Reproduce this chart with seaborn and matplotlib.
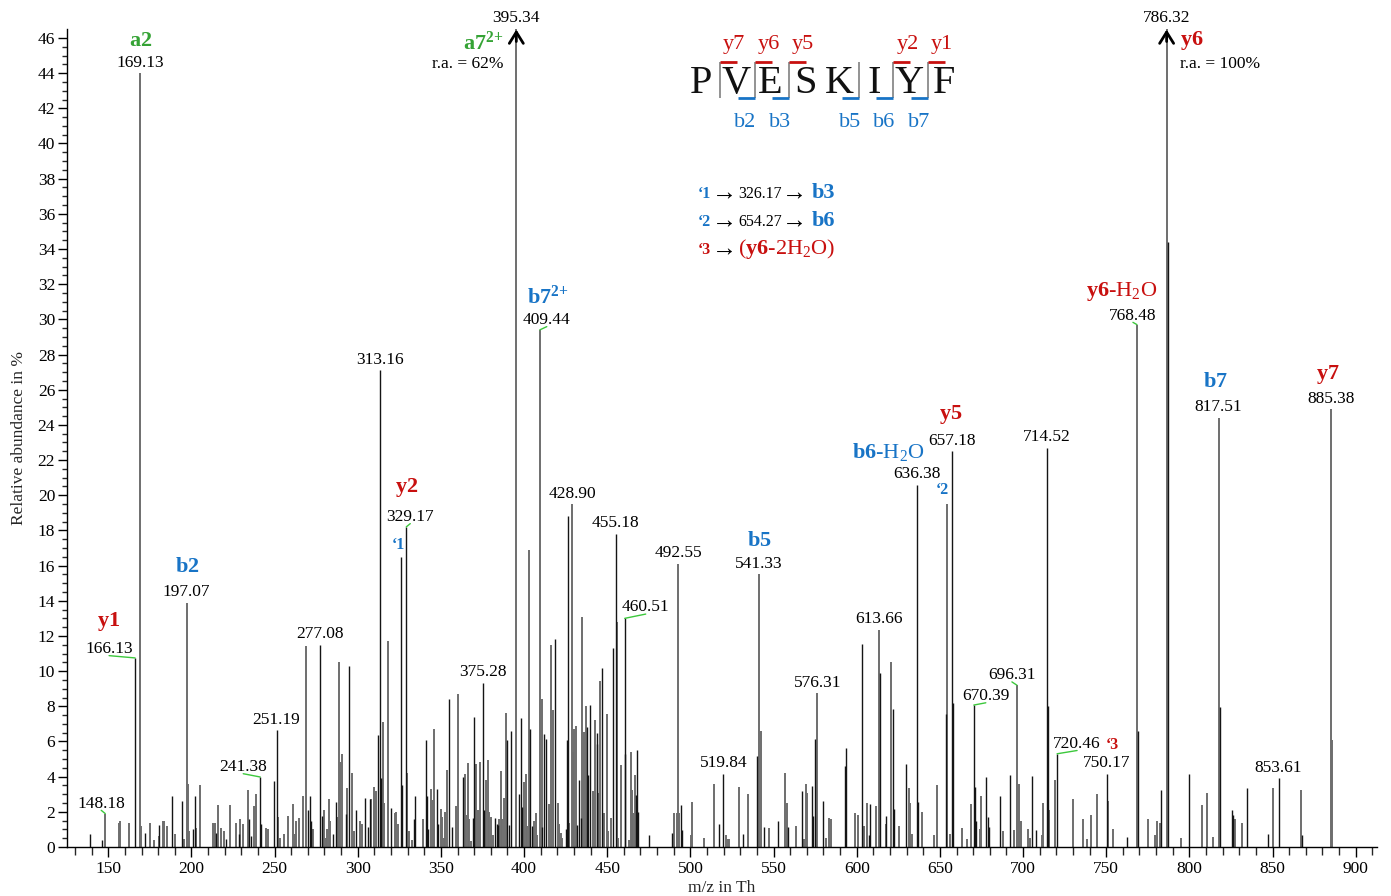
import numpy as np
import pandas as pd
import matplotlib
matplotlib.use("Agg")
import matplotlib.pyplot as plt
import seaborn as sns
from matplotlib.ticker import MultipleLocator

# ---------------------------------------------------------------------------
# Peak lists: m/z and relative abundance (%) -- two overlaid peak sets
# ---------------------------------------------------------------------------
mz_a = [148.18, 156.2, 156.8, 162.2, 169.13, 169.8, 175.2, 177.8, 180.8, 182.9,
        183.7, 185.3, 190.3, 195.7, 197.07, 197.9, 198.7, 202.7, 205.3, 212.9,
        213.9, 215.7, 217.7, 219.3, 222.9, 226.9, 229.5, 231.3, 233.9, 237.9,
        238.7, 244.9, 245.9, 251.8, 253.4, 255.8, 257.8, 260.8, 262.0, 262.8,
        264.4, 266.8, 269.0, 273.0, 280.0, 280.8, 281.8, 282.8, 283.6, 288.0,
        288.8, 289.4, 290.4, 293.4, 296.4, 297.9, 301.1, 302.5, 307.9, 309.5,
        311.1, 314.9, 315.7, 318.1, 322.1, 322.9, 324.1, 329.9, 330.7, 332.7,
        339.5, 343.9, 345.1, 345.9, 349.9, 350.9, 351.9, 352.7, 353.7, 359.0,
        360.2, 364.2, 365.0, 366.0, 367.0, 368.0, 371.0, 372.2, 373.6, 377.0,
        378.2, 379.0, 380.0, 381.2, 385.0, 386.0, 387.0, 388.0, 389.2, 395.34,
        400.0, 401.0, 402.0, 403.0, 406.2, 407.0, 408.0, 409.44, 411.0, 415.0,
        416.0, 417.2, 420.2, 421.2, 422.2, 423.0, 427.2, 428.90, 429.3, 430.0,
        431.0, 435.0, 436.1, 437.1, 441.7, 442.7, 445.1, 445.7, 448.3, 449.7,
        450.3, 452.3, 455.7, 456.7, 458.3, 463.1, 464.3, 465.1, 465.7, 466.7,
        490.3, 491.7, 492.55, 493.1, 500.2, 501.2, 508.2, 514.2, 521.2, 522.4,
        523.4, 529.2, 534.4, 541.33, 542.4, 547.4, 556.9, 557.9, 563.3, 568.5,
        569.3, 569.9, 576.31, 581.3, 583.5, 584.5, 598.9, 600.9, 604.5, 605.9,
        611.3, 613.66, 617.9, 620.6, 625.4, 631.4, 632.0, 633.0, 639.0, 646.4,
        648.2, 654.27, 656.0, 663.0, 666.4, 668.6, 674.4, 675.0, 687.7, 694.7,
        696.31, 697.7, 698.5, 703.1, 704.1, 711.1, 712.1, 715.7, 719.1, 730.1,
        736.1, 738.7, 740.7, 744.7, 750.8, 754.2, 768.48, 775.2, 779.2, 780.8,
        782.2, 786.32, 795.2, 807.8, 810.5, 813.9, 817.51, 827.7, 831.7, 850.0,
        867.0, 885.38, 886.0]
ra_a = [1.9, 1.38, 1.46, 1.38, 44.0, 1.2, 1.38, 0.38, 0.6, 1.5,
        1.5, 1.2, 0.72, 0.47, 13.9, 3.6, 0.9, 1.08, 3.5, 1.38,
        1.38, 2.37, 1.08, 0.9, 2.37, 1.38, 1.57, 1.33, 3.26, 2.33,
        3.03, 1.08, 1.04, 1.7, 0.5, 0.72, 1.76, 2.42, 0.76, 1.48,
        1.65, 2.9, 11.4, 1.0, 2.08, 0.5, 1.0, 2.75, 1.46, 1.7,
        10.5, 4.83, 5.3, 3.35, 4.22, 0.9, 1.48, 1.33, 2.75, 3.4,
        3.18, 7.1, 2.5, 11.7, 1.95, 2.0, 1.33, 4.22, 0.9, 0.38,
        1.57, 3.28, 2.65, 6.69, 2.18, 1.7, 0.5, 2.0, 4.36, 2.31,
        8.7, 4.17, 1.8, 4.77, 1.57, 0.32, 4.73, 2.12, 4.83, 3.83,
        4.92, 2.0, 1.7, 0.66, 1.61, 4.3, 1.61, 2.8, 7.6, 62.0,
        3.7, 4.17, 1.17, 16.9, 1.48, 1.95, 0.66, 29.4, 8.39, 2.42,
        11.5, 7.77, 2.5, 1.33, 0.8, 0.5, 1.38, 19.5, 5.4, 6.69,
        6.9, 13.1, 6.55, 8.03, 3.18, 7.2, 3.07, 9.43, 1.93, 7.58,
        0.9, 1.65, 12.8, 0.5, 4.68, 0.38, 5.4, 3.26, 1.93, 4.1,
        1.93, 1.93, 16.1, 1.93, 0.7, 2.56, 0.5, 3.56, 0.66, 0.47,
        0.44, 3.4, 3.03, 15.5, 6.57, 1.08, 4.22, 2.5, 1.2, 0.44,
        3.6, 3.09, 8.75, 0.53, 1.67, 1.57, 1.93, 1.8, 1.2, 2.5,
        2.31, 12.35, 1.33, 10.5, 1.2, 3.35, 2.5, 0.76, 2.0, 0.66,
        3.52, 19.5, 0.72, 1.08, 0.44, 2.42, 1.04, 2.9, 0.9, 0.95,
        9.2, 3.6, 1.48, 1.0, 0.53, 0.7, 2.5, 2.12, 3.83, 2.75,
        1.57, 0.44, 1.8, 3.0, 2.61, 1.0, 29.7, 1.61, 0.66, 1.5,
        1.38, 100.0, 0.53, 2.37, 3.07, 0.57, 24.4, 1.57, 1.38, 3.35,
        3.26, 24.9, 6.06]

mz_b = [139.2, 146.2, 166.13, 171.8, 180.4, 188.3, 194.3, 200.7, 201.9, 214.9,
        220.9, 228.9, 234.7, 235.9, 241.38, 241.9, 249.4, 251.19, 269.8, 271.0,
        271.6, 277.08, 278.8, 285.4, 286.8, 292.8, 294.6, 299.1, 304.5, 305.9,
        307.1, 312.3, 313.16, 313.7, 319.7, 326.17, 326.9, 329.17, 334.1, 334.5,
        341.1, 341.9, 342.5, 347.9, 348.5, 354.9, 356.9, 363.2, 369.0, 370.0,
        375.28, 376.0, 382.8, 383.6, 384.2, 390.0, 391.2, 392.0, 397.2, 398.0,
        399.0, 403.8, 405.0, 410.6, 412.0, 413.0, 418.8, 425.0, 425.6, 426.2,
        432.0, 433.0, 434.0, 438.1, 438.7, 439.7, 443.7, 444.1, 446.7, 453.7,
        455.18, 460.51, 460.9, 467.3, 468.1, 468.7, 475.3, 489.1, 494.3, 495.1,
        517.4, 519.84, 531.8, 539.8, 544.4, 552.8, 558.9, 567.3, 573.3, 573.9,
        574.9, 579.9, 592.9, 593.5, 602.9, 607.5, 607.9, 613.9, 617.3, 621.9,
        622.6, 629.6, 636.38, 637.0, 653.4, 657.18, 658.0, 670.39, 671.0, 671.6,
        677.6, 679.0, 679.6, 686.1, 692.1, 705.5, 707.5, 714.52, 715.1, 720.46,
        750.17, 762.6, 769.0, 783.0, 787.0, 799.8, 818.3, 825.7, 826.3, 834.9,
        847.3, 853.61, 867.6]
ra_b = [0.76, 0.38, 10.75, 0.8, 1.23, 2.9, 2.6, 1.04, 2.9, 0.8,
        0.47, 0.76, 1.57, 0.6, 3.98, 1.33, 3.73, 6.63, 2.1, 2.9,
        1.5, 11.5, 1.76, 0.76, 2.56, 1.86, 10.3, 2.08, 2.8, 1.14,
        2.75, 6.34, 27.1, 3.9, 2.2, 16.5, 3.5, 18.2, 1.57, 2.88,
        6.06, 2.88, 1.0, 3.28, 1.33, 8.43, 1.14, 3.98, 1.67, 7.39,
        9.34, 2.08, 1.65, 1.33, 1.23, 6.06, 1.23, 6.57, 3.0, 7.33,
        2.27, 6.69, 1.17, 1.14, 6.4, 6.12, 11.8, 1.04, 6.06, 18.8,
        1.23, 3.79, 1.65, 6.82, 4.1, 8.09, 5.87, 6.5, 10.2, 11.3,
        17.8, 13.0, 5.27, 2.97, 5.49, 1.99, 0.66, 0.8, 2.37, 0.95,
        1.33, 4.17, 0.76, 5.15, 1.14, 1.5, 1.14, 3.18, 3.47, 1.74,
        6.12, 2.61, 4.58, 5.65, 11.55, 0.7, 2.46, 9.9, 1.74, 7.86,
        2.18, 4.73, 20.6, 2.56, 7.58, 22.5, 8.2, 8.07, 3.4, 1.46,
        3.98, 1.7, 1.14, 2.9, 4.1, 4.05, 0.95, 22.7, 8.03, 5.3,
        4.17, 0.57, 6.57, 3.26, 34.4, 4.17, 7.95, 2.08, 1.8, 3.35,
        0.76, 3.9, 0.66]

# Peaks whose m/z is printed above them
label_mz = [148.18, 166.13, 169.13, 197.07, 241.38, 251.19, 277.08, 313.16,
            329.17, 375.28, 395.34, 409.44, 428.90, 455.18, 460.51, 492.55,
            519.84, 541.33, 576.31, 613.66, 636.38, 657.18, 670.39, 696.31,
            714.52, 720.46, 750.17, 768.48, 786.32, 817.51, 853.61, 885.38]

# Fragment-ion assignments
ion_mz = [169.13, 166.13, 197.07, 329.17, 395.34, 409.44, 541.33, 636.38,
          657.18, 768.48, 786.32, 817.51, 885.38]
ion_name = ["a2", "y1", "b2", "y2", "a7", "b7", "b5", "b6", "y5", "y6", "y6",
            "b7", "y7"]
ion_charge = [1, 1, 1, 1, 2, 2, 1, 1, 1, 1, 1, 1, 1]
ion_loss = ["", "", "", "", "", "", "", "H2O", "", "H2O", "", "", ""]

# Footnote markers on peaks and what they stand for
note_tag = ["1", "2", "3"]
note_mz = [326.17, 654.27, 720.46]
note_value = [326.17, 654.27, None]
note_target = ["b3", "b6", "y6-2H2O"]

# Peptide sequence with observed b / y fragments
sequence = "PVESKIYF"
b_obs = [2, 3, 5, 6, 7]
y_obs = [7, 6, 5, 2, 1]

# ---------------------------------------------------------------------------
W, H, DPI = 1391, 896, 100
PT = 72 / DPI                      # points per pixel
YMAX = 46.48
RED, BLUE, GREEN = "#c8100f", "#1874c6", "#35a335"
LEAD = "#3cc83c"
GRAY_PEAK, BLACK_PEAK = "#6e6e6e", "#141414"
ION_COLOR = {"a": GREEN, "b": BLUE, "y": RED}

sns.set_theme(style="ticks")
plt.rcParams["font.family"] = ["Liberation Serif", "DejaVu Serif"]
plt.rcParams["mathtext.fontset"] = "custom"
plt.rcParams["mathtext.rm"] = "Liberation Serif"
plt.rcParams["mathtext.bf"] = "Liberation Serif:bold"
plt.rcParams["mathtext.it"] = "Liberation Serif:italic"
plt.rcParams["axes.linewidth"] = 1.0
plt.rcParams["lines.solid_capstyle"] = "butt"

fig = plt.figure(figsize=(W / DPI, H / DPI), dpi=DPI)
ax = fig.add_axes([67 / W, 1 - 847 / H, (1377 - 67) / W, (847 - 29.5) / H])


def stems(mz, ra):
    n = len(mz)
    return pd.DataFrame({
        "mz": np.repeat(mz, 2),
        "ra": np.column_stack([np.zeros(n), ra]).ravel(),
        "peak": np.repeat(np.arange(n), 2),
    })


sns.lineplot(data=stems(mz_a, ra_a), x="mz", y="ra", units="peak",
             estimator=None, sort=False, color=GRAY_PEAK, lw=1.4, ax=ax)
sns.lineplot(data=stems(mz_b, ra_b), x="mz", y="ra", units="peak",
             estimator=None, sort=False, color=BLACK_PEAK, lw=1.0, ax=ax)

ax.set_xlim(125.2, 912.8)
ax.set_ylim(0, YMAX)
sns.despine(ax=ax)
ax.xaxis.set_major_locator(MultipleLocator(50))
ax.xaxis.set_minor_locator(MultipleLocator(10))
ax.yaxis.set_major_locator(MultipleLocator(2))
ax.yaxis.set_minor_locator(MultipleLocator(0.5))
ax.tick_params(axis="x", which="major", direction="out", length=7, width=1,
               pad=3, labelsize=12.5, colors="black")
ax.tick_params(axis="x", which="minor", direction="out", length=5.5, width=1)
ax.tick_params(axis="y", which="major", direction="out", length=6.5, width=1,
               pad=2, labelsize=12.5, colors="black")
ax.tick_params(axis="y", which="minor", direction="out", length=3.5, width=1)
for s in ("left", "bottom"):
    ax.spines[s].set_color("black")
ax.set_xlabel("m/z in Th", fontsize=12.5, labelpad=2)
ax.set_ylabel("Relative abundance in %", fontsize=12.5, labelpad=8)

height = dict(zip(mz_a + mz_b, ra_a + ra_b))

# arrow heads on peaks that run off the top of the axis
for mz, h in height.items():
    if h > YMAX:
        ax.annotate("", xy=(mz, YMAX), xytext=(0, -12 * PT),
                    textcoords="offset points", annotation_clip=False,
                    arrowprops=dict(arrowstyle="->,head_length=0.45,head_width=0.28",
                                    lw=2, color="black", shrinkA=0, shrinkB=0,
                                    mutation_scale=18))

# m/z labels (pixel offsets from the peak top; shifted ones get a leader)
shifted = {148.18: (-4, 10), 166.13: (-26, 9), 241.38: (-17, 10),
           329.17: (4, 10), 409.44: (7, 10), 460.51: (21, 11),
           670.39: (12, 9), 696.31: (-5, 10), 720.46: (20, 10),
           768.48: (-4, 9)}
for mz in label_mz:
    h = height[mz]
    top = min(h, YMAX)
    dx, up = shifted.get(mz, (0, 10.5))
    if h > YMAX:
        up = 11.5
    arrow = None
    if mz in shifted:
        arrow = dict(arrowstyle="-", color=LEAD, lw=1.0, shrinkA=0, shrinkB=0,
                     relpos=(0.5, 0.08))
    ax.annotate(f"{mz:.2f}", xy=(mz, top), xytext=(dx * PT, up * PT),
                textcoords="offset points", ha="center", va="center",
                fontsize=12.5, color="black", arrowprops=arrow,
                annotation_clip=False)

# ion names
ion_place = {169.13: (0.7, 32, "center"), 166.13: (-27, 36, "center"),
             197.07: (0.5, 35, "center"), 329.17: (0, 39, "center"),
             395.34: (-13, -20.5, "right"), 409.44: (8, 33, "center"),
             541.33: (0, 33, "center"), 636.38: (-29, 33, "center"),
             657.18: (-1, 37, "center"), 768.48: (-15, 33, "center"),
             786.32: (13, -15.5, "left"), 817.51: (-3, 35, "center"),
             885.38: (-4, 35, "center")}
for mz, name, z, loss in zip(ion_mz, ion_name, ion_charge, ion_loss):
    h = height[mz]
    top = min(h, YMAX)
    dx, up, ha = ion_place[mz]
    if z > 1:
        txt = rf"$\mathbf{{{name}^{{{z}{{+}}}}}}$"
    else:
        txt = rf"$\mathbf{{{name}}}$"
    if loss:
        txt += "-" + loss.replace("2", "$_2$")
    va = "baseline" if h > YMAX else "center"
    ax.annotate(txt, xy=(mz, top), xytext=(dx * PT, up * PT),
                textcoords="offset points", ha=ha, va=va, fontsize=16,
                color=ION_COLOR[name[0]], annotation_clip=False)
    if h > YMAX:
        ax.annotate(f"r.a. = {h:.0f}%", xy=(mz, top),
                    xytext=(dx * PT, -38 * PT), textcoords="offset points",
                    ha=ha, va="baseline", fontsize=12.5, color="black",
                    annotation_clip=False)

# footnote markers beside peaks
note_place = {326.17: (-3, 11.6), 654.27: (-5, 14), 720.46: (55, 9)}
for tag, mz, target in zip(note_tag, note_mz, note_target):
    dx, up = note_place[mz]
    ax.annotate("\u2018" + tag, xy=(mz, min(height[mz], YMAX)),
                xytext=(dx * PT, up * PT), textcoords="offset points",
                ha="center", va="center", fontsize=11.5, fontweight="bold",
                color=ION_COLOR[target[0]], annotation_clip=False)

# ---------------------------------------------------------------------------
# Overlay in pixel coordinates: sequence map and footnote key
# ---------------------------------------------------------------------------
ov = fig.add_axes([0, 0, 1, 1])
ov.set_xlim(0, W)
ov.set_ylim(H, 0)
ov.axis("off")

x0, step = 701, 34.7
for i, aa in enumerate(sequence):
    ov.text(x0 + i * step, 93.3, aa, ha="center", va="baseline", fontsize=29,
            color="#111111")

n = len(sequence)
cuts = sorted(set(b_obs) | {n - k for k in y_obs})
for k in cuts:
    xb = x0 + (k - 0.5) * step + 1.5
    ov.plot([xb, xb], [62, 98.5], color="#8a8a8a", lw=1.3)
    if n - k in y_obs:
        ov.plot([xb, xb + 17], [62, 62], color=RED, lw=2)
        ov.text(xb + 14, 49, f"y{n - k}", ha="center", va="baseline",
                fontsize=16, color=RED)
    if k in b_obs:
        ov.plot([xb - 17, xb], [98.5, 98.5], color=BLUE, lw=2)
        ov.text(xb - 9, 126.7, f"b{k}", ha="center", va="baseline",
                fontsize=16, color=BLUE)

row_y = [198, 226, 254]
for tag, val, target, yb in zip(note_tag, note_value, note_target, row_y):
    col = ION_COLOR[target[0]]
    ov.text(698, yb, "\u2018" + tag, ha="left", va="baseline", fontsize=11.5,
            fontweight="bold", color=col)
    ov.text(724, yb + 2, "\u2192", ha="center", va="baseline", fontsize=18,
            color="black")
    if val is not None:
        ov.text(738, yb, f"{val:.2f}", ha="left", va="baseline", fontsize=11.5,
                color="black")
        ov.text(794, yb + 2, "\u2192", ha="center", va="baseline",
                fontsize=18, color="black")
        ov.text(812, yb, target, ha="left", va="baseline", fontsize=16,
                fontweight="bold", color=col)
    else:
        ion, loss = target.split("-")
        ov.text(738, yb, rf"($\mathbf{{{ion}}}$-" + loss.replace("H2", "H$_2$") + ")",
                ha="left", va="baseline", fontsize=16, color=col)

fig.savefig("out.png", dpi=DPI)
